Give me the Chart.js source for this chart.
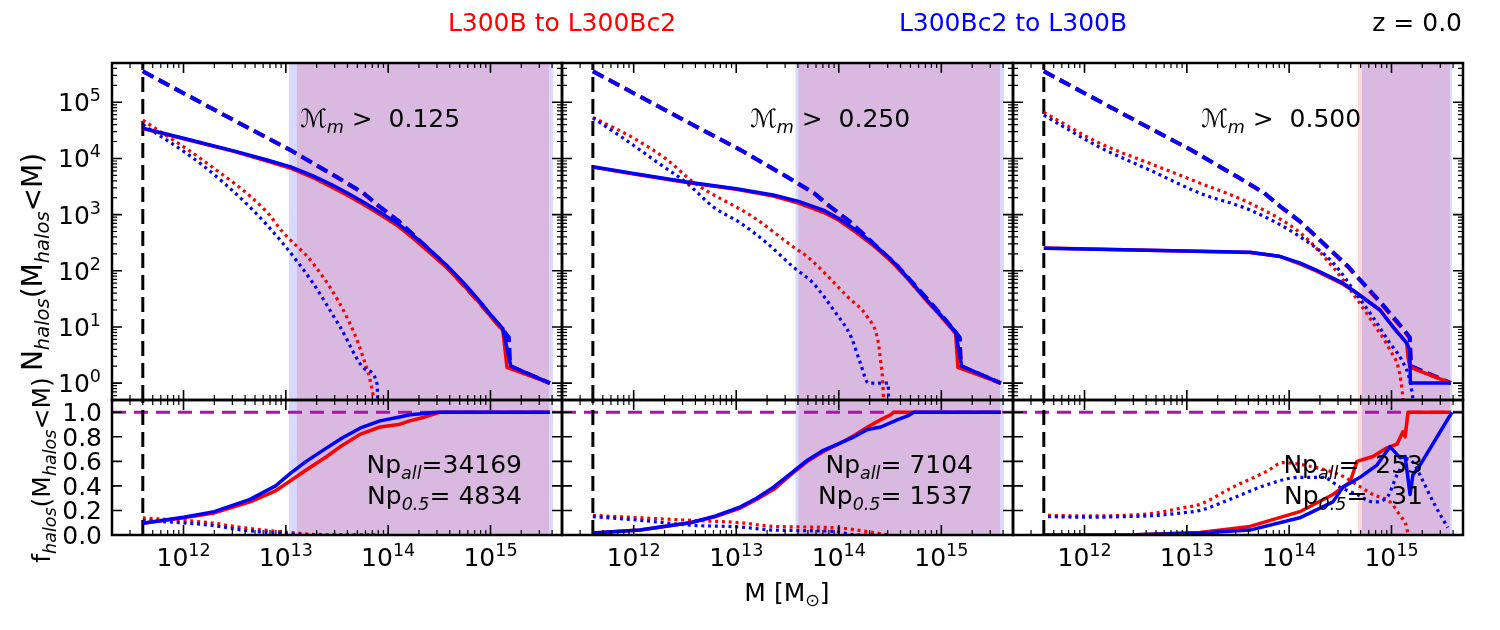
<!DOCTYPE html>
<html><head><meta charset="utf-8">
<script src="https://cdn.jsdelivr.net/npm/chart.js@4.4.0/dist/chart.umd.min.js"></script>
<style>
html,body{margin:0;padding:0;background:#fff;}
#wrap{position:relative;width:1500px;height:630px;overflow:hidden;background:#fff;}
#wrap canvas{position:absolute;left:0;top:0;}
</style></head><body>
<div id="wrap">
<canvas id="t0" width="1500" height="630"></canvas>
<canvas id="t1" width="1500" height="630"></canvas>
<canvas id="t2" width="1500" height="630"></canvas>
<canvas id="b0" width="1500" height="630"></canvas>
<canvas id="b1" width="1500" height="630"></canvas>
<canvas id="b2" width="1500" height="630"></canvas>
</div>
<script>
// ---------------- DATA ----------------
const massRange = [2e11, 5e15];
const nRange = [0.5, 5e5];
const fRange = [0, 1.1];
const massTicks = [1e12, 1e13, 1e14, 1e15];
const nTicks = [1, 10, 100, 1e3, 1e4, 1e5];
const fTicks = [0, 0.2, 0.4, 0.6, 0.8, 1.0];
const mergerThresholds = ['0.125', '0.250', '0.500'];
const npAll = [34169, 7104, 253];
const npHalf = [4834, 1537, 31];
const massLimit = 4.0e11;
const spanRed  = [[1.28e13, 3.73e15], [4.05e13, 3.73e15], [4.7e14, 3.73e15]];
const spanBlue = [[1.07e13, 4.08e15], [3.78e13, 4.08e15], [5.14e14, 3.89e15]];

// all haloes (dashed), same in all panels
const allMass  = [4.0e11, 1.0e12, 3.16e12, 1.1e13, 3.16e13, 5.7e13, 8.3e13, 1.26e14, 1.75e14, 3.76e14, 4.57e14, 7.9e14, 1.32e15, 1.51e15, 1.55e15, 3.8e15];
const allNRed  = [3.55e5, 1.45e5, 4.7e4, 1.41e4, 4.6e3, 2.4e3, 1.35e3, 760, 437, 117, 79, 26, 8.7, 6.3, 2.0, 1.0];
const allNBlue = [3.55e5, 1.45e5, 4.7e4, 1.42e4, 4.65e3, 2.45e3, 1.38e3, 775, 445, 120, 81, 27, 9.0, 6.5, 2.0, 1.0];

// panel 1 (M_m > 0.125)
const p1Mass  = [4.0e11, 1.0e12, 3.16e12, 6.31e12, 1.1e13, 1.84e13, 2.82e13, 3.95e13, 5.75e13, 8.32e13, 1.26e14, 1.75e14, 2.51e14, 3.76e14, 5.62e14, 7.89e14, 1.0e15, 1.32e15, 1.45e15, 1.58e15, 3.8e15];
const p1NRed  = [3.39e4, 2.24e4, 1.32e4, 9.12e3, 6.76e3, 4.57e3, 3.09e3, 2.24e3, 1.51e3, 1.0e3, 617, 380, 214, 112, 52.5, 26.3, 15.5, 8.71, 1.91, null, 1.0];
const p1NBlue = [3.47e4, 2.29e4, 1.35e4, 9.55e3, 7.16e3, 4.9e3, 3.39e3, 2.45e3, 1.66e3, 1.10e3, 676, 427, 240, 123, 57.5, 28.2, 16.6, 9.33, null, 2.0, 1.0];
const p1DotMassRed  = [4.0e11, 1.7e12, 6.5e12, 9.3e12, 1.84e13, 3.95e13, 5.68e13, 7.08e13, 7.5e13];
const p1DotRed      = [4.8e4, 8.2e3, 1.12e3, 490, 136, 14.9, 2.9, 0.66, 0.3];
const p1DotMassBlue = [4.0e11, 1.45e12, 4.47e12, 9.33e12, 1.84e13, 3.39e13, 6.17e13, 7.76e13, 8.0e13];
const p1DotBlue     = [4.0e4, 8.2e3, 1.35e3, 309, 60.3, 10, 1.7, 1.0, 0.3];

// panel 2 (M_m > 0.250)
const p2Mass  = [4.0e11, 1.0e12, 3.31e12, 1.0e13, 2.29e13, 3.98e13, 7.08e13, 1.0e14, 1.51e14, 2.24e14, 3.24e14, 4.68e14, 6.76e14, 1.0e15, 1.38e15, 1.45e15, 1.58e15, 3.8e15];
const p2NRed  = [7.0e3, 5.3e3, 3.72e3, 2.82e3, 2.14e3, 1.62e3, 1.10e3, 794, 468, 269, 148, 72.4, 33.1, 15.1, 7.6, 1.9, null, 1.0];
const p2NBlue = [7.08e3, 5.37e3, 3.80e3, 2.88e3, 2.24e3, 1.74e3, 1.20e3, 851, 513, 288, 158, 75.9, 34.7, 15.8, 8.13, null, 2.0, 1.0];
const p2DotMassRed  = [4.0e11, 1.0e12, 2.14e12, 3.8e12, 1.48e13, 3.63e13, 5.01e13, 1.23e14, 1.91e14, 2.4e14, 2.57e14, 2.69e14, 2.75e14];
const p2DotRed      = [5.37e4, 2.29e4, 9.33e3, 3.8e3, 891, 263, 174, 33.9, 14.8, 5.89, 2.29, 1.0, 0.3];
const p2DotMassBlue = [4.0e11, 7.94e11, 1.7e12, 3.31e12, 6.03e12, 1.1e13, 2.0e13, 3.63e13, 5.62e13, 8.91e13, 1.32e14, 1.62e14, 1.95e14, 3.02e14, 3.09e14];
const p2DotBlue     = [5.25e4, 2.29e4, 8.51e3, 3.63e3, 1.35e3, 708, 309, 115, 60.3, 20, 6.61, 2.29, 1.0, 1.0, 0.3];

// panel 3 (M_m > 0.500)
const p3Mass  = [4.0e11, 3.16e12, 4.14e13, 7.94e13, 1.27e14, 1.86e14, 3.36e14, 4.6e14, 7.71e14, 1.035e15, 1.41e15, 1.45e15, 1.51e15, 1.53e15, 3.8e15];
const p3NRed  = [253, 234, 212, 182, 132, 98, 57.5, 39.8, 20, 10, 5.13, 2.88, 1.93, null, 1.0];
const p3NBlue = [251, 234, 214, 182, 138, 102, 60.3, 39.8, 20, 10, 5.13, null, 3.89, 1.0, 1.0];
const p3DotMassRed  = [4.0e11, 1.41e12, 4.37e12, 1.35e13, 4.17e13, 1.29e14, 2.69e14, 4.57e14, 6.61e14, 9.66e14, 1.2e15, 1.35e15];
const p3DotRed      = [6.61e4, 1.86e4, 8.13e3, 3.63e3, 1.58e3, 468, 115, 31.6, 11.7, 3.89, 1.51, 0.3];
const p3DotMassBlue = [4.0e11, 1.41e12, 4.37e12, 1.35e13, 4.17e13, 1.29e14, 2.69e14, 4.9e14, 6.61e14, 9.66e14, 1.26e15, 1.51e15, 1.7e15];
const p3DotBlue     = [5.89e4, 1.58e4, 6.17e3, 2.4e3, 1.2e3, 398, 138, 31.6, 14.8, 5.13, 2.57, 1.12, 0.3];

// fractions, panel 1
const f1Mass = [4.0e11, 1.0e12, 2.0e12, 4.47e12, 7.94e12, 1.1e13, 1.58e13, 2.51e13, 3.55e13, 5.3e13, 8.32e13, 1.26e14, 1.63e14, 2.24e14, 3.0e14, 3.2e14, 3.8e15];
const f1Red  = [0.095, 0.14, 0.18, 0.27, 0.36, 0.44, 0.53, 0.64, 0.73, 0.82, 0.88, 0.90, 0.93, 0.96, null, 1.0, 1.0];
const f1Blue = [0.095, 0.145, 0.19, 0.29, 0.40, 0.50, 0.60, 0.71, 0.79, 0.87, 0.93, 0.96, 0.98, 0.99, 1.0, null, 1.0];
const f1DotMass = [4.0e11, 1.81e12, 3.8e12, 1.1e13, 2.51e13, 7.5e13];
const f1DotRed  = [0.14, 0.10, 0.06, 0.02, 0.0, 0.0];
const f1DotBlue = [0.12, 0.08, 0.04, 0.01, 0.0, 0.0];

// fractions, panel 2
const f2MassRed  = [4.0e11, 1.15e12, 3.56e12, 6.31e12, 1.1e13, 1.58e13, 2.31e13, 3.39e13, 4.95e13, 7.08e13, 1.04e14, 1.41e14, 1.91e14, 2.57e14, 3.21e14, 3.44e14, 3.8e15];
const f2Red      = [0.016, 0.04, 0.10, 0.15, 0.22, 0.29, 0.37, 0.49, 0.60, 0.68, 0.75, 0.81, 0.88, 0.94, 0.98, 1.0, 1.0];
const f2MassBlue = [4.0e11, 1.15e12, 3.56e12, 6.31e12, 1.1e13, 1.58e13, 2.31e13, 3.39e13, 4.95e13, 7.08e13, 1.04e14, 1.41e14, 1.91e14, 2.57e14, 3.76e14, 4.7e14, 5.38e14, 3.8e15];
const f2Blue     = [0.016, 0.04, 0.10, 0.155, 0.23, 0.30, 0.39, 0.50, 0.61, 0.69, 0.75, 0.80, 0.86, 0.88, 0.94, 0.97, 1.0, 1.0];
const f2DotMassRed  = [4.0e11, 1.15e12, 3.56e12, 1.1e13, 2.31e13, 8.9e13, 2.19e14, 3.0e14];
const f2DotRed      = [0.16, 0.14, 0.12, 0.10, 0.07, 0.06, 0.02, 0.0];
const f2DotMassBlue = [4.0e11, 1.15e12, 3.56e12, 1.1e13, 2.31e13, 8.9e13, 1.51e14, 3.0e14];
const f2DotBlue     = [0.15, 0.12, 0.08, 0.065, 0.04, 0.03, 0.0, 0.0];

// fractions, panel 3
const f3MassRed  = [4.0e11, 3.16e12, 1.34e13, 4.14e13, 1.27e14, 2.68e14, 3.93e14, 4.6e14, 6.59e14, 9.04e14, 1.13e15, 1.29e15, 1.36e15, 1.45e15, 3.8e15];
const f3Red      = [0.0, 0.002, 0.02, 0.07, 0.19, 0.33, 0.43, 0.60, 0.64, 0.71, 0.74, 0.84, 0.80, 1.0, 1.0];
const f3MassBlue = [4.0e11, 3.16e12, 1.34e13, 4.14e13, 1.27e14, 2.68e14, 3.36e14, 4.92e14, 7.21e14, 9.66e14, 1.21e15, 1.36e15, 1.52e15, 1.62e15, 1.9e15, 3.9e15];
const f3Blue     = [0.0, 0.002, 0.016, 0.04, 0.14, 0.27, 0.39, 0.47, 0.57, 0.72, 0.63, 0.64, 0.33, 0.49, 0.57, 1.0];
const f3DotMassRed  = [4.4e11, 1.0e12, 2.51e12, 5.01e12, 8.91e12, 1.34e13, 2.82e13, 6.07e13, 8.69e13, 1.6e14, 3.13e14, 4.6e14, 6.59e14, 9.66e14, 1.21e15, 1.41e15, 1.45e15];
const f3DotRed      = [0.16, 0.155, 0.16, 0.18, 0.22, 0.25, 0.39, 0.52, 0.59, 0.56, 0.49, 0.41, 0.33, 0.27, 0.16, 0.06, 0.0];
const f3DotMassBlue = [4.4e11, 1.0e12, 2.51e12, 5.01e12, 8.91e12, 1.34e13, 2.82e13, 6.07e13, 1.27e14, 2.14e14, 3.13e14, 4.6e14, 6.59e14, 8.91e14, 1.15e15, 1.45e15, 1.66e15, 2.0e15, 2.63e15, 3.55e15];
const f3DotBlue     = [0.15, 0.145, 0.15, 0.16, 0.18, 0.20, 0.30, 0.41, 0.47, 0.47, 0.39, 0.33, 0.27, 0.30, 0.50, 0.62, 0.58, 0.45, 0.25, 0.06];

// ---------------- STYLE / LAYOUT ----------------
const RED = '#ff0000', BLUE = '#0000ff', PURPLE = '#a815a8';
const COLS = [[112, 562], [562, 1013], [1013, 1463]];
const ROWS = {top: [63, 400], bot: [400, 535]};
const STYLES = {
  solid:  {w: 3.5, dash: [], smooth: false},
  dashed: {w: 4, dash: [12, 6], smooth: false},
  dotted: {w: 3.2, dash: [3, 3.8], smooth: true},
  vline:  {w: 3, dash: [15, 7], smooth: false},
  hline:  {w: 3, dash: [14, 8], smooth: false}
};
const FAM = '"DejaVu Sans", "Liberation Sans", sans-serif';
const FB = 25, FS = 17.5;

function series(ms, vs, color, style, order) {
  const data = [];
  ms.forEach((m, i) => { if (vs[i] !== null && vs[i] !== undefined) data.push({x: m, y: vs[i]}); });
  const st = STYLES[style];
  const d = {data, borderColor: color, backgroundColor: color, borderWidth: st.w, borderDash: st.dash,
    pointRadius: 0, pointHoverRadius: 0, fill: false, tension: 0, order,
    borderCapStyle: 'butt', borderJoinStyle: 'round'};
  if (st.smooth) d.cubicInterpolationMode = 'monotone';
  return d;
}

function fnt(r) { return (r.i ? 'italic ' : '') + r.s + 'px ' + FAM; }
function richWidth(ctx, runs) { let w = 0; for (const r of runs) { ctx.font = fnt(r); w += ctx.measureText(r.t).width; } return w; }
function drawRich(ctx, runs, x, y, align, color) {
  const w = richWidth(ctx, runs);
  let cx = align === 'center' ? x - w / 2 : align === 'right' ? x - w : x;
  ctx.fillStyle = color || '#000'; ctx.textAlign = 'left'; ctx.textBaseline = 'alphabetic';
  for (const r of runs) { ctx.font = fnt(r); ctx.fillText(r.t, cx, y + (r.dy || 0)); cx += ctx.measureText(r.t).width; }
}
const T = (t, o) => Object.assign({t, s: FB}, o || {});
const SUB = (t, s) => ({t, s: s || FS, i: true, dy: 6});
const SUP = (t) => ({t, s: FS, dy: -10});
const pow10Label = (v) => [T('10'), SUP(String(Math.round(Math.log10(v))))];

function logTicks(min, max) {
  const out = [];
  for (let n = Math.floor(Math.log10(min)); n <= Math.ceil(Math.log10(max)); n++) {
    for (let k = 1; k <= 9; k++) {
      const v = k * Math.pow(10, n);
      if (v >= min * 0.9999 && v <= max * 1.0001) out.push({v, major: k === 1});
    }
  }
  return out;
}

const deco = {
  id: 'deco',
  beforeDatasetsDraw(chart, args, o) {
    const {ctx, chartArea: a, scales: {x}} = chart;
    ctx.save();
    ctx.beginPath(); ctx.rect(a.left, a.top, a.right - a.left, a.bottom - a.top); ctx.clip();
    const spans = [[spanRed[o.col], 'rgba(255,0,0,0.15)'], [spanBlue[o.col], 'rgba(0,0,255,0.15)']];
    for (const [s, c] of spans) {
      const x0 = x.getPixelForValue(s[0]), x1 = x.getPixelForValue(s[1]);
      ctx.fillStyle = c; ctx.fillRect(x0, a.top, x1 - x0, a.bottom - a.top);
    }
    ctx.restore();
  },
  afterDatasetsDraw(chart, args, o) {
    const {ctx, chartArea: a, scales: {x, y}} = chart;
    ctx.save();
    ctx.strokeStyle = '#000';
    for (const t of logTicks(x.min, x.max)) {
      const px = x.getPixelForValue(t.v), len = t.major ? 10 : 5;
      ctx.lineWidth = t.major ? 1.6 : 1.2;
      ctx.beginPath();
      ctx.moveTo(px, a.bottom); ctx.lineTo(px, a.bottom - len);
      ctx.moveTo(px, a.top); ctx.lineTo(px, a.top + len);
      ctx.stroke();
    }
    const yt = o.row === 'top' ? logTicks(y.min, y.max) : fTicks.map(v => ({v, major: true}));
    for (const t of yt) {
      const py = y.getPixelForValue(t.v), len = t.major ? 10 : 5;
      ctx.lineWidth = t.major ? 1.6 : 1.2;
      ctx.beginPath();
      ctx.moveTo(a.left, py); ctx.lineTo(a.left + len, py);
      ctx.moveTo(a.right, py); ctx.lineTo(a.right - len, py);
      ctx.stroke();
    }
    ctx.lineWidth = 2.5;
    ctx.strokeRect(a.left, a.top, a.right - a.left, a.bottom - a.top);

    if (o.col === 0) {
      if (o.row === 'top') {
        for (const v of nTicks) drawRich(ctx, pow10Label(v), a.left - 11, y.getPixelForValue(v) + 9, 'right');
      } else {
        for (const v of fTicks) drawRich(ctx, [T(v.toFixed(1))], a.left - 10, y.getPixelForValue(v) + 9, 'right');
      }
    }
    if (o.row === 'bot') {
      for (const v of massTicks) drawRich(ctx, pow10Label(v), x.getPixelForValue(v), 566, 'center');
    }
    if (o.row === 'top') {
      drawRich(ctx, [T('\u2133'), SUB('m'), T(' > '), T(' ' + mergerThresholds[o.col])], a.left + 188, 127, 'left');
    } else {
      const pad = (n) => String(n).padStart(5, ' ');
      drawRich(ctx, [T('Np'), SUB('all'), T('=' + pad(npAll[o.col]))], a.right - 40, 473, 'right');
      drawRich(ctx, [T('Np'), SUB('0.5'), T('=' + pad(npHalf[o.col]))], a.right - 40, 504, 'right');
    }
    if (o.col === 0) {
      ctx.save();
      if (o.row === 'top') {
        ctx.translate(42, 262);
        ctx.rotate(-Math.PI / 2);
        const big = 28, sub = 19.5;
        drawRich(ctx, [T('N', {s: big}), {t: 'halos', s: sub, i: true, dy: 7}, T('(M', {s: big}), {t: 'halos', s: sub, i: true, dy: 7}, T('<M)', {s: big})], 0, 0, 'center');
      } else {
        ctx.translate(50, 470);
        ctx.rotate(-Math.PI / 2);
        drawRich(ctx, [T('f'), SUB('halos'), T('(M'), SUB('halos'), T('<M)')], 0, 0, 'center');
      }
      ctx.restore();
    }
    if (o.row === 'top' && o.col === 0) {
      drawRich(ctx, [T('L300B to L300Bc2')], 562, 31, 'center', RED);
      drawRich(ctx, [T('L300Bc2 to L300B')], 1013, 31, 'center', BLUE);
      drawRich(ctx, [T('z = 0.0')], 1462, 31, 'right', '#000');
    }
    if (o.row === 'bot' && o.col === 1) {
      drawRich(ctx, [T('M [M'), {t: '\u2299', s: FS, dy: 5}, T(']')], 787, 601, 'center');
    }
    ctx.restore();
  }
};

const topPanels = [
  {m: p1Mass, r: p1NRed, b: p1NBlue, dmr: p1DotMassRed, dr: p1DotRed, dmb: p1DotMassBlue, db: p1DotBlue},
  {m: p2Mass, r: p2NRed, b: p2NBlue, dmr: p2DotMassRed, dr: p2DotRed, dmb: p2DotMassBlue, db: p2DotBlue},
  {m: p3Mass, r: p3NRed, b: p3NBlue, dmr: p3DotMassRed, dr: p3DotRed, dmb: p3DotMassBlue, db: p3DotBlue}
];
const botPanels = [
  {mr: f1Mass, r: f1Red, mb: f1Mass, b: f1Blue, dmr: f1DotMass, dr: f1DotRed, dmb: f1DotMass, db: f1DotBlue},
  {mr: f2MassRed, r: f2Red, mb: f2MassBlue, b: f2Blue, dmr: f2DotMassRed, dr: f2DotRed, dmb: f2DotMassBlue, db: f2DotBlue},
  {mr: f3MassRed, r: f3Red, mb: f3MassBlue, b: f3Blue, dmr: f3DotMassRed, dr: f3DotRed, dmb: f3DotMassBlue, db: f3DotBlue}
];

function makeChart(id, row, col, datasets, yType, yr) {
  const [L, R] = COLS[col], [TT, BB] = ROWS[row];
  return new Chart(document.getElementById(id), {
    type: 'line',
    data: {datasets},
    options: {
      responsive: false, animation: false, devicePixelRatio: 1,
      layout: {padding: {left: L, right: 1500 - R, top: TT, bottom: 630 - BB}},
      plugins: {legend: {display: false}, tooltip: {enabled: false}, deco: {row, col}},
      events: [],
      scales: {
        x: {type: 'logarithmic', min: massRange[0], max: massRange[1], display: false, bounds: 'data'},
        y: {type: yType, min: yr[0], max: yr[1], display: false, bounds: 'data'}
      }
    },
    plugins: [deco]
  });
}

topPanels.forEach((p, c) => {
  const ds = [
    series([massLimit, massLimit], [nRange[0], nRange[1]], '#000', 'vline', 9),
    series(p.dmr, p.dr, RED, 'dotted', 7),
    series(p.dmb, p.db, BLUE, 'dotted', 6),
    series(allMass, allNRed, RED, 'dashed', 5),
    series(allMass, allNBlue, BLUE, 'dashed', 4),
    series(p.m, p.r, RED, 'solid', 2),
    series(p.m, p.b, BLUE, 'solid', 1)
  ];
  makeChart('t' + c, 'top', c, ds, 'logarithmic', nRange);
});
botPanels.forEach((p, c) => {
  const ds = [
    series([massRange[0], massRange[1]], [1.0, 1.0], PURPLE, 'hline', 10),
    series([massLimit, massLimit], [fRange[0], fRange[1]], '#000', 'vline', 9),
    series(p.dmr, p.dr, RED, 'dotted', 7),
    series(p.dmb, p.db, BLUE, 'dotted', 6),
    series(p.mr, p.r, RED, 'solid', 2),
    series(p.mb, p.b, BLUE, 'solid', 1)
  ];
  makeChart('b' + c, 'bot', c, ds, 'linear', fRange);
});
</script>
</body></html>
